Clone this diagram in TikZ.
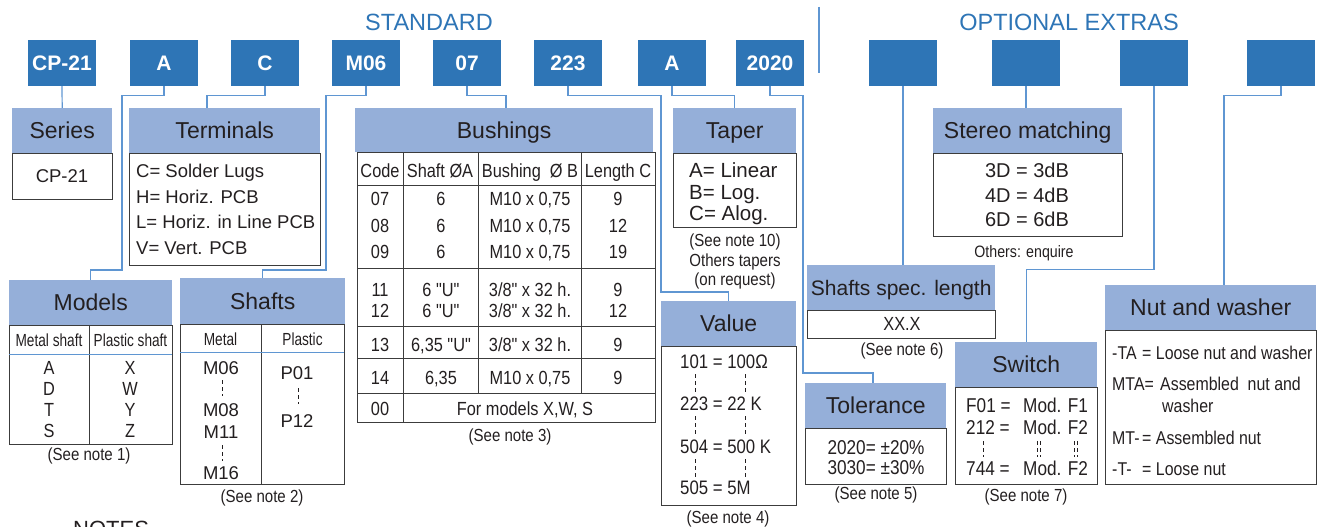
\documentclass[tikz,border=0pt]{standalone}
\usepackage{fontspec}
\setmainfont{Liberation Sans}
\newfontfamily\nrA[FakeStretch=0.86]{Liberation Sans}
\newfontfamily\nrB[FakeStretch=0.78]{Liberation Sans}
\newcommand\fsz[1]{\fontsize{#1}{#1}\selectfont}
\definecolor{topblue}{RGB}{46,117,182}
\definecolor{hdrblue}{RGB}{149,175,217}
\definecolor{lineblue}{RGB}{95,150,210}
\definecolor{bord}{RGB}{60,60,60}
\definecolor{txt}{RGB}{35,31,32}
\newcommand\brow[6]{%
  \node[nA] (#1c) at (380,#6) {#2};
  \node[nA] (#1a) at (441,#6) {#3};
  \node[nA] (#1b) at (530,#6) {#4};
  \node[nA] (#1l) at (618,#6) {#5};}
\begin{document}
\begin{tikzpicture}[x=1pt,y=-1pt,
  top/.style={fill=topblue, text=white, font=\bfseries\fsz{21}, minimum width=68pt, minimum height=46pt, inner sep=0pt, text height=15pt, text depth=0pt},
  hdr/.style={fill=hdrblue, text=txt, font=\fsz{23}, inner sep=0pt, anchor=north west, text height=16.5pt, text depth=0pt},
  bodybox/.style={draw=bord, line width=1.1pt, inner sep=0pt, anchor=north west},
  conn/.style={draw=lineblue, line width=1.2pt},
  grid/.style={draw=bord, line width=1pt},
  sep/.style={draw=lineblue, line width=1pt},
  dsh/.style={draw=txt, line width=0.9pt, dash pattern=on 4pt off 3pt},
  tA/.style={font=\fsz{18.5}, text=txt, inner sep=0pt, text height=13.3pt, text depth=0pt},
  tB/.style={font=\fsz{20.5}, text=txt, inner sep=0pt, text height=14.7pt, text depth=0pt},
  nA/.style={font=\nrA\fsz{19}, text=txt, inner sep=0pt, text height=13.6pt, text depth=0pt},
  nN/.style={font=\nrA\fsz{17.5}, text=txt, inner sep=0pt, text height=12.5pt, text depth=0pt},
  nB/.style={font=\nrB\fsz{17.5}, text=txt, inner sep=0pt, text height=12.5pt, text depth=0pt},
  ttl/.style={font=\fsz{23.5}, text=topblue, inner sep=0pt, text height=16.8pt, text depth=0pt}
]
\useasboundingbox (0,0) rectangle (1318,527);

% titles
\node[ttl] (stdT) at (429,22) {STANDARD};
\node[ttl] (optT) at (1069,22) {OPTIONAL EXTRAS};
\draw[conn] (819,7) -- (819,73);

% top code boxes
\node[top] (t1) at (62,63) {CP-21};
\node[top] (t2) at (164,63) {A};
\node[top] (t3) at (265,63) {C};
\node[top] (t4) at (366,63) {M06};
\node[top] (t5) at (467,63) {07};
\node[top] (t6) at (568,63) {223};
\node[top] (t7) at (672,63) {A};
\node[top] (t8) at (770,63) {2020};
\node[top] (o1) at (903,63) {};
\node[top] (o2) at (1026,63) {};
\node[top] (o3) at (1154,63) {};
\node[top] (o4) at (1281,63) {};

% headers
\node[hdr, minimum width=100pt, minimum height=45pt] (seriesH) at (12,108) {Series};
\node[hdr, minimum width=191pt, minimum height=45pt] (termH) at (129,108) {Terminals};
\node[hdr, minimum width=163pt, minimum height=45pt] (modelsH) at (9,280) {Models};
\node[hdr, minimum width=165pt, minimum height=46pt] (shaftsH) at (180,278) {Shafts};
\node[hdr, minimum width=298pt, minimum height=44pt] (bushH) at (355,108) {Bushings};
\node[hdr, minimum width=123pt, minimum height=45pt] (taperH) at (673,108) {Taper};
\node[hdr, minimum width=135pt, minimum height=45pt] (valueH) at (661,301) {Value};
\node[hdr, minimum width=189pt, minimum height=45pt] (stereoH) at (933,108) {Stereo matching};
\node[hdr, minimum width=188pt, minimum height=45pt, font=\fsz{21}, text height=15pt] (sslH) at (807,265) {Shafts spec. length};
\node[hdr, minimum width=141pt, minimum height=45pt] (tolH) at (805,383) {Tolerance};
\node[hdr, minimum width=142pt, minimum height=45pt] (switchH) at (955,342) {Switch};
\node[hdr, minimum width=211pt, minimum height=45pt] (nutH) at (1105,285) {Nut and washer};

% bodies
\node[bodybox, minimum width=100pt, minimum height=46pt] (seriesB) at (12,153) {};
\node[bodybox, minimum width=191pt, minimum height=112pt] (termB) at (129,153) {};
\node[bodybox, minimum width=163pt, minimum height=119pt] (modelsB) at (9,325) {};
\node[bodybox, minimum width=164pt, minimum height=160pt] (shaftsB) at (180,324) {};
\node[bodybox, minimum width=298pt, minimum height=270pt] (bushB) at (357,152) {};
\node[bodybox, minimum width=123pt, minimum height=74pt] (taperB) at (673,153) {};
\node[bodybox, minimum width=135pt, minimum height=159pt] (valueB) at (661,346) {};
\node[bodybox, minimum width=189pt, minimum height=83pt] (stereoB) at (933,153) {};
\node[bodybox, minimum width=188pt, minimum height=28pt] (sslB) at (807,310) {};
\node[bodybox, minimum width=141pt, minimum height=56pt] (tolB) at (805,428) {};
\node[bodybox, minimum width=142pt, minimum height=97pt] (switchB) at (955,387) {};
\node[bodybox, minimum width=211pt, minimum height=154pt] (nutB) at (1105,330) {};

% connectors
\draw[conn] (t1.south) -- (seriesH.north);
\draw[conn] (t2.south) -- ++(0,9) -| (122,270) -| (modelsH.north);
\draw[conn] (t3.south) -- ++(0,9) -| (207,0 |- termH.north);
\draw[conn] (t4.south) -- ++(0,9) -| (326,270) -| (shaftsH.north);
\draw[conn] (t5.south) -- ++(0,9) -| (506,0 |- bushH.north);
\draw[conn] (t6.south) -- ++(0,9) -| (661,292) -| (valueH.north);
\draw[conn] (t7.south) -- ++(0,9) -| (taperH.north);
\draw[conn] (t8.south) -- ++(0,9) -| (803,373) -| (873,0 |- tolH.north);
\draw[conn] (o1.south) -- (o1.south |- sslH.north);
\draw[conn] (o2.south) -- (o2.south |- stereoH.north);
\draw[conn] (o3.south) -- ++(0,183) -| (switchH.north);
\draw[conn] (o4.south) -- ++(0,9) -| (1224,0 |- nutH.north);

% Series
\node[tA] (sr1) at (62,176) {CP-21};

% Terminals
\node[tA, anchor=west] (te1) at (136,171) {C= Solder Lugs};
\node[tA, anchor=west] (te2) at (136,197) {H= Horiz. PCB};
\node[tA, anchor=west] (te3) at (136,222) {L= Horiz. in Line PCB};
\node[tA, anchor=west] (te4) at (136,248) {V= Vert. PCB};

% Models
\draw[grid] (89,325) -- (89,444);
\draw[sep] (9,354) -- (172,354);
\node[nB] (mh1) at (49,340) {Metal shaft};
\node[nB] (mh2) at (130.5,340) {Plastic shaft};
\node[nA] (m1) at (49,368) {A};
\node[nA] (m2) at (49,389) {D};
\node[nA] (m3) at (49,410) {T};
\node[nA] (m4) at (49,431) {S};
\node[nA] (m5) at (130,368) {X};
\node[nA] (m6) at (130,389) {W};
\node[nA] (m7) at (130,410) {Y};
\node[nA] (m8) at (130,431) {Z};
\node[nN] (mn) at (89,454) {(See note 1)};

% Shafts
\draw[grid] (261,324) -- (261,484);
\draw[sep] (180,352) -- (344,352);
\node[nB] (sh1) at (220.5,339) {Metal};
\node[nB] (sh2) at (302.5,339) {Plastic};
\node[tA] (s1) at (221,368) {M06};
\node[tA] (s2) at (221,410) {M08};
\node[tA] (s3) at (221,432) {M11};
\node[tA] (s4) at (221,473) {M16};
\node[tA] (s5) at (297,373) {P01};
\node[tA] (s6) at (297,421) {P12};
\draw[dsh] (222,380) -- (222,396);
\draw[dsh] (222,445) -- (222,461);
\draw[dsh] (298,388) -- (298,404);
\node[nN] (sn) at (262,496) {(See note 2)};

% Bushings
\draw[grid] (403,152) -- (403,422);
\draw[grid] (478,152) -- (478,393);
\draw[grid] (581,152) -- (581,393);
\foreach \yy in {185,268,326,358,393} \draw[grid] (357,\yy) -- (655,\yy);
\node[nA] (bh1) at (380,171) {Code};
\node[nA] (bh2) at (440,171) {Shaft ØA};
\node[nA] (bh3) at (530,171) {Bushing\ \ Ø B};
\node[nA] (bh4) at (618,171) {Length C};
\brow{r07}{07}{6}{M10 x 0,75}{9}{199}
\brow{r08}{08}{6}{M10 x 0,75}{12}{226}
\brow{r09}{09}{6}{M10 x 0,75}{19}{252}
\brow{r11}{11}{6 "U"}{3/8" x 32 h.}{9}{290}
\brow{r12}{12}{6 "U"}{3/8" x 32 h.}{12}{311}
\brow{r13}{13}{6,35 "U"}{3/8" x 32 h.}{9}{345}
\brow{r14}{14}{6,35}{M10 x 0,75}{9}{378}
\node[nA] (b00) at (380,409) {00};
\node[nA] (bfm) at (525,409) {For models X,W, S};
\node[nN] (bn) at (510,435) {(See note 3)};

% Taper
\node[tB, anchor=west] (ta1) at (689,170) {A= Linear};
\node[tB, anchor=west] (ta2) at (689,192) {B= Log.};
\node[tB, anchor=west] (ta3) at (689,213) {C= Alog.};
\node[nN] (tan1) at (735,240) {(See note 10)};
\node[nN] (tan2) at (735,260) {Others tapers};
\node[nN] (tan3) at (735,279) {(on request)};

% Value
\node[nA, font=\nrA\fsz{19.5}, anchor=west] (v1) at (680,362) {101 = 100Ω};
\node[nA, font=\nrA\fsz{19.5}, anchor=west] (v2) at (680,404) {223 = 22 K};
\node[nA, font=\nrA\fsz{19.5}, anchor=west] (v3) at (680,447) {504 = 500 K};
\node[nA, font=\nrA\fsz{19.5}, anchor=west] (v4) at (680,488) {505 = 5M};
\foreach \xx in {695,745} {
  \draw[dsh] (\xx,374) -- (\xx,393);
  \draw[dsh] (\xx,416) -- (\xx,435);
  \draw[dsh] (\xx,459) -- (\xx,478);
}
\node[nN] (vn) at (728,517) {(See note 4)};

% Stereo matching
\node[tB, font=\fsz{20}] (st1) at (1027,170) {3D = 3dB};
\node[tB, font=\fsz{20}] (st2) at (1027,195) {4D = 4dB};
\node[tB, font=\fsz{20}] (st3) at (1027,219) {6D = 6dB};
\node[nN, font=\nrA\fsz{16.5}] (stn) at (1024,251) {Others: enquire};

% Shafts spec. length
\node[nA] (ssl1) at (902,324) {XX.X};
\node[nN] (ssln) at (902,349) {(See note 6)};

% Tolerance
\node[nA, font=\nrA\fsz{20}] (to1) at (876,448) {2020= ±20\%};
\node[nA, font=\nrA\fsz{20}] (to2) at (876,468) {3030= ±30\%};
\node[nN] (ton) at (876,493) {(See note 5)};

% Switch
\node[nA, font=\nrA\fsz{20}, anchor=west] (sw1) at (966,406) {F01 =};
\node[nA, font=\nrA\fsz{20}, anchor=west] (sw2) at (966,428) {212 =};
\node[nA, font=\nrA\fsz{20}, anchor=west] (sw3) at (966,469) {744 =};
\node[nA, font=\nrA\fsz{20}, anchor=west] (sw4) at (1023,406) {Mod. F1};
\node[nA, font=\nrA\fsz{20}, anchor=west] (sw5) at (1023,428) {Mod. F2};
\node[nA, font=\nrA\fsz{20}, anchor=west] (sw6) at (1023,469) {Mod. F2};
\draw[dsh] (983,441) -- (983,457);
\foreach \xx in {1037.5,1040.5,1074.5,1077.5} \draw[dsh] (\xx,441) -- (\xx,457);
\node[nN] (swn) at (1026,495) {(See note 7)};

% Nut and washer
\node[nA, font=\nrA\fsz{18.5}, anchor=west] (nw1) at (1112,353) {-TA};
\node[nA, font=\nrA\fsz{18.5}, anchor=west] (nw1b) at (1142,353) {= Loose nut and washer};
\node[nA, font=\nrA\fsz{18.5}, anchor=west] (nw2) at (1112,384) {MTA=};
\node[nA, font=\nrA\fsz{18.5}, anchor=west] (nw2b) at (1160,384) {Assembled\ \ nut and};
\node[nA, font=\nrA\fsz{18.5}, anchor=west] (nw2c) at (1162,406) {washer};
\node[nA, font=\nrA\fsz{18.5}, anchor=west] (nw3) at (1112,438) {MT-};
\node[nA, font=\nrA\fsz{18.5}, anchor=west] (nw3b) at (1142,438) {= Assembled nut};
\node[nA, font=\nrA\fsz{18.5}, anchor=west] (nw4) at (1112,469) {-T-};
\node[nA, font=\nrA\fsz{18.5}, anchor=west] (nw4b) at (1142,469) {= Loose nut};

% cut-off NOTES heading
\node[font=\fsz{22}, text=txt, inner sep=0pt, anchor=base west] (notes) at (73,536) {NOTES};
\end{tikzpicture}
\end{document}
